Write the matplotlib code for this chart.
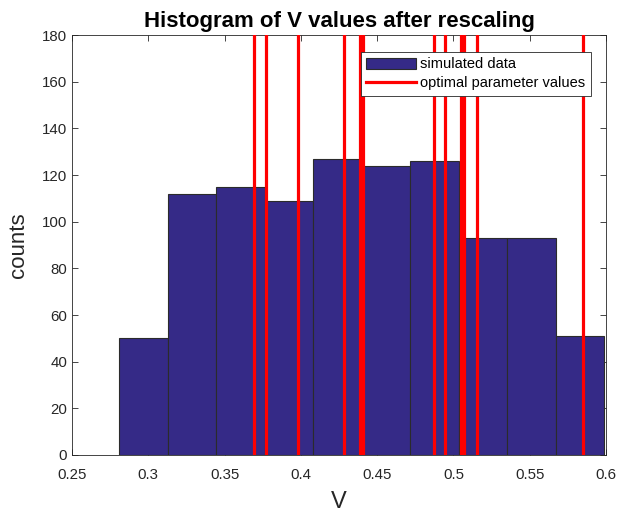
import numpy as np
import matplotlib.pyplot as plt

plt.rcParams['font.family'] = ['Liberation Sans', 'DejaVu Sans']

# histogram bins (left edge, width) and counts
bin_start = 0.2810
bin_width = 0.03177
counts = [50, 112, 115, 109, 127, 124, 126, 93, 93, 51]

# optimal parameter values (red lines)
opt_vals = [0.3691, 0.3773, 0.3983, 0.4285, 0.4388, 0.4408,
            0.4870, 0.4943, 0.5050, 0.5068, 0.5153, 0.5850]

edges = bin_start + bin_width*np.arange(len(counts)+1)

fig = plt.figure(figsize=(6.18, 5.21), dpi=100)
ax = fig.add_axes([72/618, 1-455/521, 534/618, 420/521])

bars = ax.bar(edges[:-1], counts, width=bin_width, align='edge',
              color='#352a87', edgecolor='#2b2b2b', linewidth=0.8,
              label='simulated data', zorder=2)
lines = []
for v in opt_vals:
    lines.append(ax.axvline(v, color='#ff0000', linewidth=2.3, zorder=3))

ax.set_xlim(0.25, 0.6)
ax.set_ylim(0, 180)
ax.set_xticks([0.25, 0.3, 0.35, 0.4, 0.45, 0.5, 0.55, 0.6])
ax.set_xticklabels(['0.25', '0.3', '0.35', '0.4', '0.45', '0.5', '0.55', '0.6'])
ax.set_yticks(np.arange(0, 181, 20))
ax.tick_params(direction='in', top=True, right=True, length=4,
               labelsize=10.8, colors='#262626', width=0.6)
ax.tick_params(axis='x', pad=9.5)
for s in ax.spines.values():
    s.set_color('#262626')
    s.set_linewidth(0.6)

ax.set_title('Histogram of V values after rescaling', fontsize=16,
             fontweight='bold', pad=6)
ax.set_xlabel('V', fontsize=17, color='#262626', labelpad=6)
ax.set_ylabel('counts', fontsize=16, color='#262626', labelpad=9)

leg = ax.legend([bars, lines[0]], ['simulated data', 'optimal parameter values'],
                loc='upper right', bbox_to_anchor=(0.971, 0.959), fontsize=10.5,
                fancybox=False, framealpha=1, edgecolor='#262626',
                handlelength=3.4, handleheight=0.8, borderpad=0.35,
                labelspacing=0.35, handletextpad=0.3, borderaxespad=0)
leg.get_frame().set_linewidth(0.6)
leg.set_zorder(5)

fig.savefig('out.png', dpi=100)
